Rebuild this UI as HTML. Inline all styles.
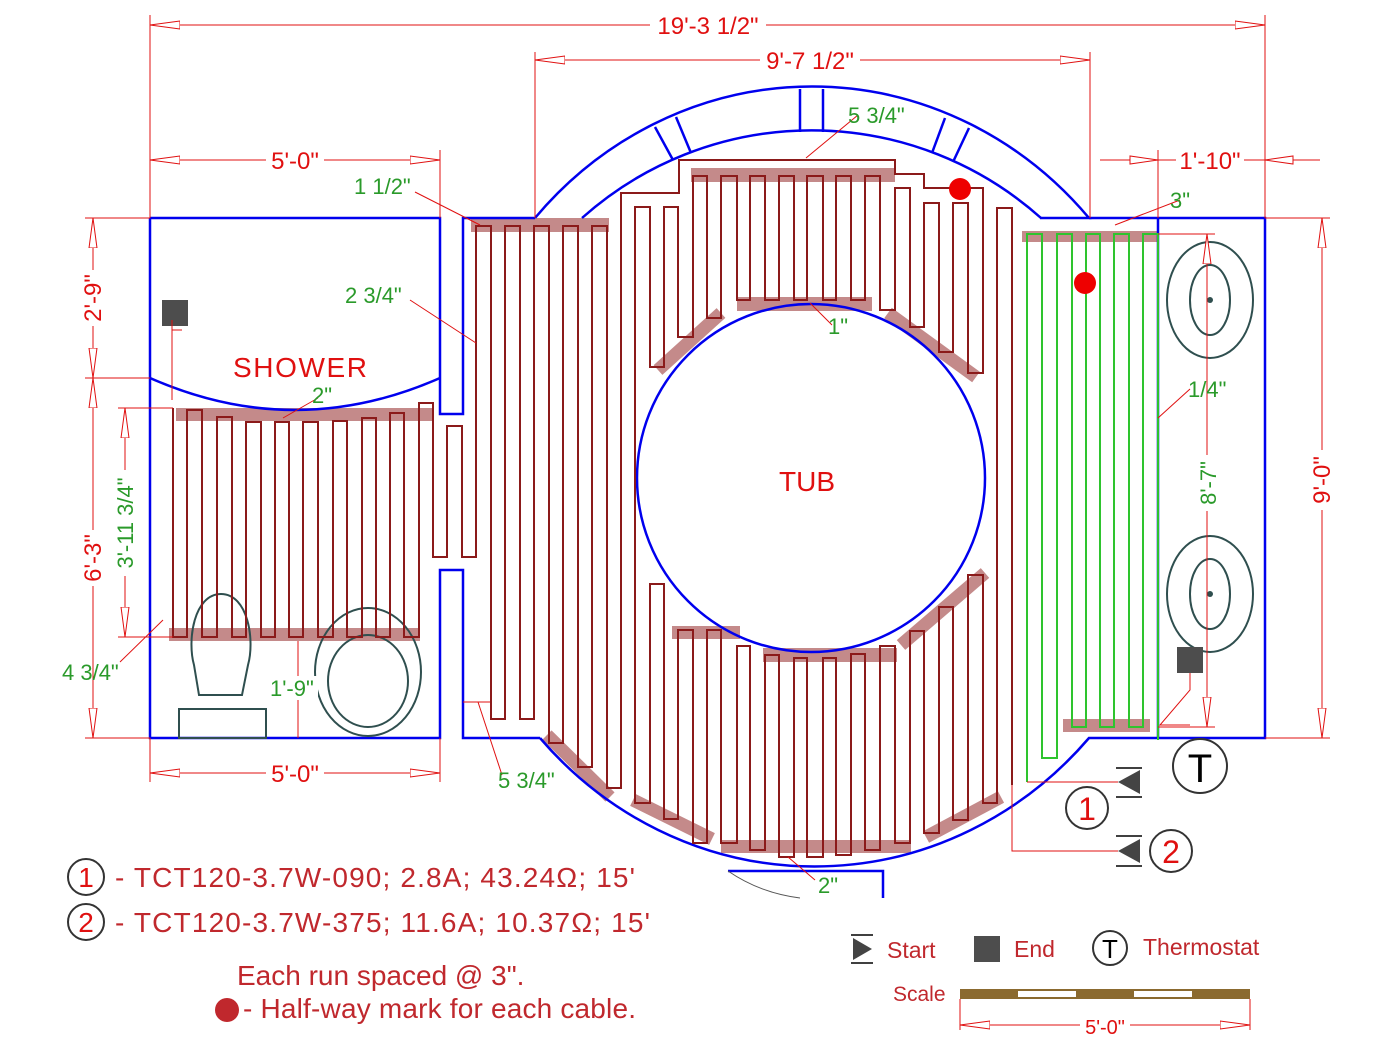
<!DOCTYPE html>
<html><head><meta charset="utf-8"><style>
html,body{margin:0;padding:0;background:#fff}
svg{display:block}
text{font-family:"Liberation Sans",Arial,sans-serif}
.dim{fill:#e01010;font-size:24px}
.g{fill:#2a9a2a;font-size:22px}
.lg{fill:#c0282d;font-size:28px}
</style></head><body>
<svg width="1400" height="1049" viewBox="0 0 1400 1049" xmlns="http://www.w3.org/2000/svg">
<defs>
<marker id="ar" viewBox="0 0 30 10" refX="30" refY="5" markerWidth="30" markerHeight="10" markerUnits="userSpaceOnUse" orient="auto-start-reverse">
<polygon points="30,5 0,1 0,9" fill="#fff" stroke="#e01010" stroke-width="1"/>
</marker>
</defs>

<g fill="#c48a8a" stroke="none">
<rect x="471" y="218" width="138" height="14"/>
<rect x="691" y="168" width="204" height="14"/>
<rect x="737" y="297" width="135" height="14"/>
<rect x="176" y="408" width="257" height="13"/>
<rect x="169" y="628" width="251" height="13"/>
<rect x="672" y="626" width="68" height="13"/>
<rect x="763" y="648" width="134" height="14"/>
<rect x="721" y="840" width="190" height="13"/>
<rect x="1022" y="231" width="136" height="11"/>
<rect x="1063" y="719" width="87" height="13"/>
</g>
<g stroke="#c48a8a" stroke-width="13" fill="none">
<line x1="658" y1="370" x2="721" y2="313"/>
<line x1="888" y1="313" x2="976" y2="377"/>
<line x1="547" y1="735" x2="610" y2="797"/>
<line x1="633" y1="800" x2="712" y2="839"/>
<line x1="901" y1="645" x2="985" y2="573"/>
<line x1="926" y1="837" x2="1001" y2="797"/>
</g>

<g stroke="#0000ee" stroke-width="2.5" fill="none">
<path d="M150,218 H440 V414 H463 V218 H535"/>
<path d="M150,218 V738 H440 V570 H463 V738 H540"/>
<path d="M150,378 Q295,442 440,378"/>
<path d="M535,218 A370,390 0 0 1 1089,218 H1040"/>
<path d="M582,218 A345,346 0 0 1 1041,218"/>
<path d="M540,738 A370,390 0 0 0 1089,738 H1265 V218 H1089"/>
<line x1="1158" y1="218" x2="1158" y2="738"/>
<circle cx="811" cy="478" r="174"/>
<line x1="800" y1="89" x2="800" y2="132"/>
<line x1="823" y1="89" x2="823" y2="132"/>
<line x1="655" y1="127" x2="673" y2="160"/>
<line x1="676" y1="117" x2="691" y2="153"/>
<line x1="945" y1="118" x2="932" y2="153"/>
<line x1="969" y1="128" x2="953" y2="162"/>
<path d="M728,871 H883 V898"/>
</g>
<path d="M728,871 Q760,893 800,898" stroke="#555" stroke-width="1" fill="none"/>

<g stroke="#2f4f4f" stroke-width="2" fill="none">
<path d="M221,594 C248,594 255,640 248,665 L242,695 H199 L194,665 C187,640 194,594 221,594 Z"/>
<rect x="179" y="709" width="87" height="29"/>
<ellipse cx="368" cy="672" rx="53" ry="64"/>
<ellipse cx="368" cy="681" rx="40" ry="46"/>
<ellipse cx="1210" cy="300" rx="43" ry="58"/>
<ellipse cx="1210" cy="300" rx="20" ry="35"/>
<ellipse cx="1210" cy="594" rx="43" ry="58"/>
<ellipse cx="1210" cy="594" rx="20" ry="35"/>
</g>
<circle cx="1210" cy="300" r="3" fill="#2f4f4f"/>
<circle cx="1210" cy="594" r="3" fill="#2f4f4f"/>

<polyline fill="none" stroke="#8b1a1a" stroke-width="2" points="173,408 173,637 187,637 187,410 202,410 202,637 217,637 217,417 232,417 232,637 246,637 246,422 261,422 261,637 275,637 275,422 289,422 289,637 303,637 303,422 318,422 318,637 333,637 333,421 347,421 347,637 362,637 362,418 376,418 376,637 390,637 390,413 404,413 404,637 419,637 419,403 433,403 433,557 447,557 447,426 462,426 462,557 476,557 476,226 491,226 491,719 505,719 505,226 520,226 520,719 534,719 534,226 549,226 549,743 563,743 563,226 578,226 578,767 592,767 592,226 607,226 607,788 621,788 621,193 679,193 679,160 895,160 895,174 924,174 924,188 983,188 983,373 968,373 968,203 953,203 953,352 939,352 939,203 924,203 924,327 910,327 910,188 895,188 895,310 880,310 880,176 865,176 865,300 851,300 851,176 836,176 836,300 823,300 823,176 807,176 807,300 794,300 794,176 779,176 779,300 765,300 765,176 750,176 750,300 737,300 737,176 721,176 721,318 707,318 707,176 693,176 693,337 678,337 678,207 664,207 664,367 650,367 650,207 635,207 635,803 650,803 650,584 664,584 664,819 678,819 678,630 693,630 693,843 707,843 707,630 721,630 721,843 737,843 737,646 750,646 750,850 765,850 765,655 779,655 779,857 794,857 794,658 807,658 807,857 823,857 823,658 836,658 836,855 851,855 851,654 865,654 865,850 880,850 880,646 895,646 895,843 910,843 910,631 924,631 924,833 939,833 939,607 953,607 953,820 968,820 968,575 983,575 983,803 997,803 997,208 1012,208 1012,785"/>
<polyline fill="none" stroke="#2ec42e" stroke-width="2" points="1027,782 1027,234 1042,234 1042,758 1057,758 1057,234 1072,234 1072,727 1086,727 1086,234 1100,234 1100,727 1114,727 1114,234 1129,234 1129,727 1143,727 1143,234 1158,234 1158,740"/>

<circle cx="960" cy="189" r="11" fill="#ee0000"/>
<circle cx="1085" cy="283" r="11" fill="#ee0000"/>
<rect x="162" y="300" width="26" height="26" fill="#4d4d4d"/>
<rect x="1177" y="647" width="26" height="26" fill="#4d4d4d"/>

<g stroke="#e01010" stroke-width="1" fill="none">
<line x1="150" y1="15" x2="150" y2="218"/><line x1="1265" y1="15" x2="1265" y2="218"/>
<line x1="150" y1="25" x2="1265" y2="25" marker-start="url(#ar)" marker-end="url(#ar)"/>
<line x1="535" y1="52" x2="535" y2="218"/><line x1="1090" y1="52" x2="1090" y2="218"/>
<line x1="535" y1="60" x2="1090" y2="60" marker-start="url(#ar)" marker-end="url(#ar)"/>
<line x1="150" y1="150" x2="150" y2="218"/><line x1="440" y1="150" x2="440" y2="218"/>
<line x1="150" y1="160" x2="440" y2="160" marker-start="url(#ar)" marker-end="url(#ar)"/>
<line x1="1158" y1="150" x2="1158" y2="218"/>
<line x1="1100" y1="160" x2="1320" y2="160"/>
<polygon points="1158,160 1130,156 1130,164" fill="#fff"/>
<polygon points="1265,160 1293,156 1293,164" fill="#fff"/>
<line x1="85" y1="218" x2="150" y2="218"/><line x1="85" y1="378" x2="150" y2="378"/><line x1="85" y1="738" x2="150" y2="738"/>
<line x1="93" y1="218" x2="93" y2="378" marker-start="url(#ar)" marker-end="url(#ar)"/>
<line x1="93" y1="378" x2="93" y2="738" marker-start="url(#ar)" marker-end="url(#ar)"/>
<line x1="118" y1="408" x2="173" y2="408"/><line x1="118" y1="637" x2="173" y2="637"/>
<line x1="125" y1="408" x2="125" y2="637" marker-start="url(#ar)" marker-end="url(#ar)"/>
<line x1="1265" y1="218" x2="1330" y2="218"/><line x1="1265" y1="738" x2="1330" y2="738"/>
<line x1="1322" y1="218" x2="1322" y2="738" marker-start="url(#ar)" marker-end="url(#ar)"/>
<line x1="1158" y1="234" x2="1215" y2="234"/><line x1="1158" y1="727" x2="1215" y2="727"/>
<line x1="1207" y1="234" x2="1207" y2="727" marker-start="url(#ar)" marker-end="url(#ar)"/>
<line x1="150" y1="738" x2="150" y2="782"/><line x1="440" y1="738" x2="440" y2="782"/>
<line x1="150" y1="773" x2="440" y2="773" marker-start="url(#ar)" marker-end="url(#ar)"/>
<line x1="960" y1="999" x2="960" y2="1030"/><line x1="1250" y1="999" x2="1250" y2="1030"/>
<line x1="960" y1="1025" x2="1250" y2="1025" marker-start="url(#ar)" marker-end="url(#ar)"/>
<line x1="806" y1="158" x2="858" y2="115"/>
<line x1="415" y1="192" x2="480" y2="225"/>
<line x1="410" y1="300" x2="476" y2="343"/>
<line x1="810" y1="303" x2="832" y2="325"/>
<line x1="283" y1="418" x2="318" y2="398"/>
<line x1="1115" y1="225" x2="1180" y2="200"/>
<line x1="1158" y1="418" x2="1190" y2="389"/>
<line x1="120" y1="662" x2="163" y2="620"/>
<line x1="298" y1="641" x2="298" y2="738"/>
<line x1="463" y1="702" x2="490" y2="702"/><line x1="478" y1="702" x2="502" y2="775"/>
<line x1="788" y1="857" x2="815" y2="880"/>
<line x1="182" y1="330" x2="172" y2="330"/><line x1="172" y1="320" x2="172" y2="400"/>
<path d="M1190,673 V690 L1160,725 H1190"/>
<line x1="1027" y1="782" x2="1118" y2="782"/>
<path d="M1012,785 V851 H1118"/>
</g>
<g class="dim">
<rect x="650" y="12" width="116" height="26" fill="#fff"/>
<text x="708" y="34" text-anchor="middle">19'-3 1/2"</text>
<rect x="760" y="47" width="100" height="26" fill="#fff"/>
<text x="810" y="69" text-anchor="middle">9'-7 1/2"</text>
<rect x="266" y="148" width="58" height="24" fill="#fff"/>
<text x="295" y="169" text-anchor="middle">5'-0"</text>
<rect x="1176" y="148" width="68" height="24" fill="#fff"/>
<text x="1210" y="169" text-anchor="middle">1'-10"</text>
<rect x="266" y="761" width="58" height="24" fill="#fff"/>
<text x="295" y="782" text-anchor="middle">5'-0"</text>
<rect x="1080" y="1013" width="50" height="24" fill="#fff"/>
<text x="1105" y="1034" text-anchor="middle" style="font-size:20px">5'-0"</text>
<rect x="80" y="270" width="26" height="56" fill="#fff"/>
<text transform="translate(101,298) rotate(-90)" text-anchor="middle">2'-9"</text>
<rect x="80" y="530" width="26" height="56" fill="#fff"/>
<text transform="translate(101,558) rotate(-90)" text-anchor="middle">6'-3"</text>
<rect x="1309" y="450" width="26" height="60" fill="#fff"/>
<text transform="translate(1330,480) rotate(-90)" text-anchor="middle">9'-0"</text>
<text x="300" y="377" text-anchor="middle" style="font-size:28px" textLength="134">SHOWER</text>
<text x="807" y="491" text-anchor="middle" style="font-size:28px">TUB</text>
</g>
<g class="g">
<text x="848" y="123">5 3/4"</text>
<text x="354" y="194">1 1/2"</text>
<text x="345" y="303">2 3/4"</text>
<text x="828" y="334">1"</text>
<text x="312" y="403">2"</text>
<text x="1170" y="208">3"</text>
<text x="1188" y="397">1/4"</text>
<text x="62" y="680">4 3/4"</text>
<rect x="268" y="676" width="50" height="24" fill="#fff"/>
<text x="270" y="696">1'-9"</text>
<text x="498" y="788">5 3/4"</text>
<text x="818" y="893">2"</text>
<rect x="112" y="470" width="26" height="106" fill="#fff"/>
<text transform="translate(133,523) rotate(-90)" text-anchor="middle">3'-11 3/4"</text>
<rect x="1195" y="455" width="26" height="56" fill="#fff"/>
<text transform="translate(1216,483) rotate(-90)" text-anchor="middle">8'-7"</text>
</g>

<g fill="#444">
<polygon points="1118,782 1140,770 1140,794"/>
<polygon points="1118,851 1140,839 1140,863"/>
<polygon points="853,938 872,949 853,960"/>
</g>
<g stroke="#000" stroke-width="1.5">
<line x1="1116" y1="768" x2="1142" y2="768"/><line x1="1116" y1="797" x2="1142" y2="797"/>
<line x1="1116" y1="836" x2="1142" y2="836"/><line x1="1116" y1="866" x2="1142" y2="866"/>
<line x1="851" y1="935" x2="873" y2="935"/><line x1="851" y1="963" x2="873" y2="963"/>
</g>
<g fill="none" stroke="#333" stroke-width="2">
<circle cx="1200" cy="766" r="27"/>
<circle cx="1087" cy="808" r="21"/>
<circle cx="1171" cy="851" r="21"/>
<circle cx="86" cy="877" r="18"/>
<circle cx="86" cy="922" r="18"/>
<circle cx="1110" cy="948" r="17"/>
</g>
<text x="1200" y="782" text-anchor="middle" style="font-size:40px;fill:#000">T</text>
<text x="1110" y="958" text-anchor="middle" style="font-size:26px;fill:#000">T</text>
<text x="1087" y="820" text-anchor="middle" style="font-size:32px;fill:#e01010">1</text>
<text x="1171" y="863" text-anchor="middle" style="font-size:32px;fill:#e01010">2</text>
<text x="86" y="887" text-anchor="middle" style="font-size:28px;fill:#e01010">1</text>
<text x="86" y="932" text-anchor="middle" style="font-size:28px;fill:#e01010">2</text>

<text class="lg" x="115" y="887" textLength="520">- TCT120-3.7W-090; 2.8A; 43.24Ω; 15'</text>
<text class="lg" x="115" y="932" textLength="535">- TCT120-3.7W-375; 11.6A; 10.37Ω; 15'</text>
<text class="lg" x="237" y="985">Each run spaced @ 3".</text>
<circle cx="227" cy="1010" r="12" fill="#c0282d"/>
<text class="lg" x="243" y="1018" textLength="393">- Half-way mark for each cable.</text>
<text x="887" y="958" style="font-size:23px;fill:#c0282d">Start</text>
<rect x="974" y="936" width="26" height="26" fill="#4d4d4d"/>
<text x="1014" y="957" style="font-size:23px;fill:#c0282d">End</text>
<text x="1143" y="955" style="font-size:23px;fill:#c0282d">Thermostat</text>
<text x="893" y="1001" style="font-size:21px;fill:#c0282d">Scale</text>
<rect x="960" y="989" width="290" height="10" fill="#8b6a2f"/>
<rect x="1018" y="991" width="58" height="6" fill="#fff"/>
<rect x="1134" y="991" width="58" height="6" fill="#fff"/>
</svg>
</body></html>
